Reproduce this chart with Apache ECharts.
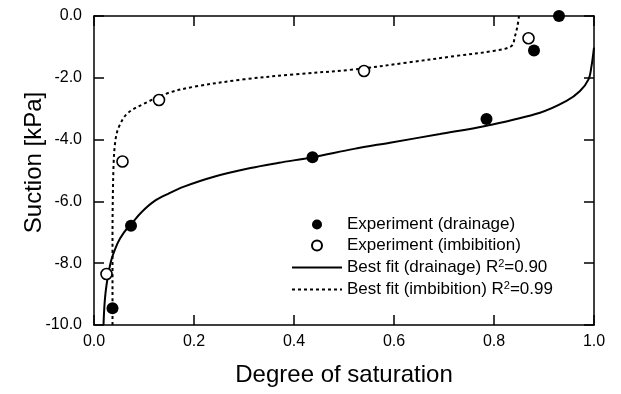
<!DOCTYPE html>
<html>
<head>
<meta charset="utf-8">
<script src="https://cdn.jsdelivr.net/npm/echarts@6/dist/echarts.min.js"></script>
<style>
html,body{margin:0;padding:0;background:#fff;}
#chart{width:621px;height:394px;}
</style>
</head>
<body>
<div id="chart"></div>
<script>
// Experimental points
var drainX = [0.93, 0.88, 0.785, 0.437, 0.074, 0.037];
var drainY = [0.0, -1.12, -3.33, -4.57, -6.79, -9.46];
var imbX = [0.869, 0.54, 0.13, 0.057, 0.025];
var imbY = [-0.72, -1.78, -2.72, -4.71, -8.35];

// Best-fit curves
var fitDX = [0.019, 0.023, 0.033, 0.047, 0.06, 0.075, 0.095, 0.12, 0.15, 0.18, 0.24, 0.313, 0.37, 0.437, 0.52, 0.592, 0.692, 0.785, 0.892, 0.945, 0.972, 0.989, 0.995, 1.0];
var fitDY = [-10, -8.97, -8.0, -7.36, -7.0, -6.72, -6.35, -6.0, -5.74, -5.52, -5.2, -4.92, -4.75, -4.57, -4.3, -4.1, -3.82, -3.55, -3.13, -2.75, -2.43, -2.05, -1.62, -1.02];
var fitIX = [0.037, 0.037, 0.039, 0.043, 0.05, 0.067, 0.1, 0.147, 0.2, 0.3, 0.4, 0.52, 0.625, 0.725, 0.799, 0.835, 0.842, 0.847, 0.85];
var fitIY = [-10, -7.3, -4.88, -4.01, -3.58, -3.15, -2.84, -2.5, -2.29, -2.05, -1.89, -1.73, -1.51, -1.29, -1.13, -0.97, -0.65, -0.32, 0];

var xTicks = [0.0, 0.2, 0.4, 0.6, 0.8, 1.0];
var yTicks = [-10.0, -8.0, -6.0, -4.0, -2.0, 0.0];

var legendTexts = {};
legendTexts['Best fit (drainage) R2=0.90'] = 'Best fit (drainage) R{sup|2}=0.90';
legendTexts['Best fit (imbibition) R2=0.99'] = 'Best fit (imbibition) R{sup|2}=0.99';

function zip(a, b) { return a.map(function (v, i) { return [v, b[i]]; }); }

var FONT = 'Liberation Sans, Arial, sans-serif';
var chart = echarts.init(document.getElementById('chart'), null, {renderer: 'canvas'});

var axisCommon = {
  axisLine: {show: true, onZero: false, lineStyle: {color: '#000', width: 1.5}},
  axisTick: {show: true, inside: true, length: 10, lineStyle: {color: '#000', width: 1.5}},
  splitLine: {show: false}
};

chart.setOption({
  backgroundColor: '#fff',
  animation: false,
  color: ['#000'],
  grid: {left: 94, right: 27, top: 16, bottom: 69, containLabel: false},
  xAxis: [
    Object.assign({}, axisCommon, {
      type: 'value', min: xTicks[0], max: xTicks[xTicks.length - 1], interval: 0.2, position: 'bottom',
      name: 'Degree of saturation', nameLocation: 'middle', nameGap: 38, nameMoveOverlap: false,
      nameTextStyle: {fontFamily: FONT, fontSize: 24, color: '#000'},
      axisLabel: {fontFamily: FONT, fontSize: 16, color: '#000', margin: 9, formatter: function (v) { return v.toFixed(1); }}
    }),
    Object.assign({}, axisCommon, {
      type: 'value', min: 0, max: 1, interval: 0.2, position: 'top', axisLabel: {show: false}
    })
  ],
  yAxis: [
    Object.assign({}, axisCommon, {
      type: 'value', min: yTicks[0], max: yTicks[yTicks.length - 1], interval: 2, position: 'left',
      name: 'Suction [kPa]', nameLocation: 'middle', nameGap: 48, nameMoveOverlap: false,
      nameTextStyle: {fontFamily: FONT, fontSize: 24, color: '#000', padding: [0, 0, 0, 16]},
      axisLabel: {fontFamily: FONT, fontSize: 16, color: '#000', margin: 12, formatter: function (v) { return v.toFixed(1); }}
    }),
    Object.assign({}, axisCommon, {
      type: 'value', min: -10, max: 0, interval: 2, position: 'right', axisLabel: {show: false}
    })
  ],
  legend: {
    left: 286, top: 211, orient: 'vertical',
    itemWidth: 50, itemHeight: 10, itemGap: 4,
    data: [
      {name: 'Experiment (drainage)'},
      {name: 'Experiment (imbibition)'},
      {name: 'Best fit (drainage) R2=0.90', itemStyle: {opacity: 0}},
      {name: 'Best fit (imbibition) R2=0.99', itemStyle: {opacity: 0}}
    ],
    formatter: function (n) { return legendTexts[n] || n; },
    textStyle: {
      fontFamily: FONT, fontSize: 17, color: '#000', lineHeight: 17,
      rich: {sup: {fontFamily: FONT, fontSize: 11, color: '#000', padding: [0, 0, 8, 0]}}
    }
  },
  series: [
    {
      name: 'Best fit (drainage) R2=0.90', type: 'line', data: zip(fitDX, fitDY),
      symbol: 'none', smooth: 0.35, itemStyle: {color: '#000'},
      lineStyle: {color: '#000', width: 2, type: 'solid'}, z: 2
    },
    {
      name: 'Best fit (imbibition) R2=0.99', type: 'line', data: zip(fitIX, fitIY),
      symbol: 'none', smooth: 0.35, itemStyle: {color: '#000'},
      lineStyle: {color: '#000', width: 2, type: [3, 3]}, z: 2
    },
    {
      name: 'Experiment (drainage)', type: 'scatter', data: zip(drainX, drainY),
      symbol: 'circle', symbolSize: 12, itemStyle: {color: '#000', opacity: 1}, z: 5
    },
    {
      name: 'Experiment (imbibition)', type: 'scatter', data: zip(imbX, imbY),
      symbol: 'circle', symbolSize: 11, itemStyle: {color: '#fff', borderColor: '#000', borderWidth: 1.6, opacity: 1}, z: 5
    }
  ]
});
</script>
</body>
</html>
